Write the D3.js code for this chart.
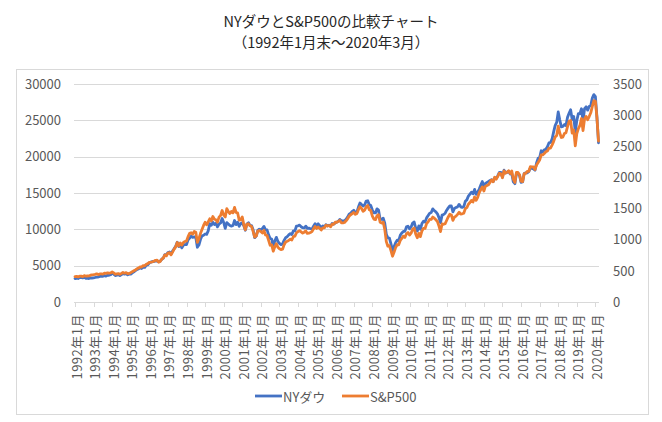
<!DOCTYPE html>
<html>
<head>
<meta charset="utf-8">
<script src="https://cdn.jsdelivr.net/npm/d3@7"></script>
<style>
  html, body { margin: 0; padding: 0; background: #fff; }
  svg { display: block; font-family: "Noto Sans CJK JP", "Noto Sans", sans-serif; }
</style>
</head>
<body>
<svg id="chart" width="662" height="422"></svg>
<script>
// ---- Data (month-end closes, Jan 1992 – Mar 2020) ----
const titleLines = ["NYダウとS&P500の比較チャート", "（1992年1月末～2020年3月）"];
const seriesNames = ["NYダウ", "S&P500"];
const startYear = 1992;
const tickLabels = ["1992年1月","1993年1月","1994年1月","1995年1月","1996年1月","1997年1月","1998年1月",
  "1999年1月","2000年1月","2001年1月","2002年1月","2003年1月","2004年1月","2005年1月","2006年1月",
  "2007年1月","2008年1月","2009年1月","2010年1月","2011年1月","2012年1月","2013年1月","2014年1月",
  "2015年1月","2016年1月","2017年1月","2018年1月","2019年1月","2020年1月"];
const leftTicks = [0, 5000, 10000, 15000, 20000, 25000, 30000];
const rightTicks = [0, 500, 1000, 1500, 2000, 2500, 3000, 3500];

const dow = [
  3223,3267,3236,3359,3397,3319,3394,3257,3272,3226,3305,3301,
  3310,3371,3435,3428,3527,3516,3540,3651,3555,3681,3684,3754,
  3978,3832,3636,3682,3758,3625,3765,3913,3843,3908,3739,3834,
  3843,4011,4158,4321,4465,4556,4708,4611,4789,4756,5075,5117,
  5395,5486,5587,5569,5643,5655,5529,5616,5882,6029,6522,6448,
  6813,6878,6584,7009,7331,7673,8223,7622,7945,7442,7823,7908,
  7907,8546,8800,9063,8900,8952,8883,7539,7843,8592,9117,9181,
  9359,9307,9786,10789,10560,10971,10655,10829,10337,10729,10878,11497,
  10941,10128,10922,10734,10522,10448,10522,11215,10651,10971,10415,10788,
  10887,10495,9879,10735,10912,10502,10523,9950,8848,9075,9852,10022,
  9920,10106,10404,9946,9925,9243,8737,8664,7592,8397,8896,8342,
  8054,7891,7992,8480,8850,8985,9234,9416,9275,9801,9782,10454,
  10488,10584,10358,10226,10188,10435,10140,10174,10080,10027,10428,10783,
  10490,10766,10504,10193,10467,10275,10641,10482,10569,10440,10806,10718,
  10865,10993,11109,11367,11168,11150,11186,11381,11679,12081,12222,12463,
  12622,12269,12354,13063,13628,13409,13212,13358,13896,13930,13372,13265,
  12650,12266,12263,12820,12638,11350,11378,11544,10851,9325,8829,8776,
  8001,7063,7609,8168,8500,8447,9172,9496,9712,9713,10345,10428,
  10067,10325,10857,11009,10137,9774,10466,10015,10788,11118,11006,11578,
  11892,12226,12320,12811,12570,12414,12143,11614,10913,11955,12046,12218,
  12633,12952,13212,13214,12393,12880,13009,13091,13437,13096,13026,13104,
  13861,14054,14579,14840,15116,14910,15500,14810,15130,15546,16086,16577,
  15699,16322,16458,16581,16717,16827,16563,17098,17043,17391,17828,17823,
  17165,18133,17776,17841,18011,17620,17690,16528,16285,17664,17720,17425,
  16466,16517,17685,17774,17787,17930,18432,18401,18308,18142,19124,19763,
  19864,20812,20663,20941,21009,21350,21891,21948,22405,23377,24272,24719,
  26149,25029,24103,24163,24416,24271,25415,25965,26458,25116,25538,23327,
  24999,25916,25929,26593,24815,26600,26864,26403,26917,27046,28051,28538,
  28256,25409,21917
];

const sp500 = [
  408.8,412.7,403.7,414.9,415.4,408.1,424.2,414.0,417.8,418.7,431.4,435.7,
  438.8,443.4,451.7,440.2,450.2,450.5,448.1,463.6,458.9,467.8,461.8,466.5,
  481.6,467.1,445.8,450.9,456.5,444.3,458.3,475.5,462.7,472.4,453.7,459.3,
  470.4,487.4,500.7,514.7,533.4,544.8,562.1,561.9,584.4,581.5,605.4,615.9,
  636.0,640.4,645.5,654.2,669.1,670.6,639.9,651.9,687.3,705.3,757.0,740.7,
  786.2,790.8,757.1,801.3,848.3,885.1,954.3,899.5,947.3,914.6,955.4,970.4,
  980.3,1049.3,1101.8,1111.8,1090.8,1133.8,1120.7,957.3,1017.0,1098.7,1163.6,1229.2,
  1279.6,1238.3,1286.4,1335.2,1301.8,1372.7,1328.7,1320.4,1282.7,1362.9,1389.0,1469.3,
  1394.5,1366.4,1498.6,1452.4,1420.6,1454.6,1430.8,1517.7,1436.5,1429.4,1315.2,1320.3,
  1366.0,1239.9,1160.3,1249.5,1255.8,1224.4,1211.2,1133.6,1040.9,1059.8,1139.5,1148.1,
  1130.2,1106.7,1147.4,1076.9,1067.1,989.8,911.6,916.1,815.3,885.8,936.3,879.8,
  855.7,841.2,848.2,916.9,963.6,974.5,990.3,1008.0,996.0,1050.7,1058.2,1111.9,
  1131.1,1144.9,1126.2,1107.3,1120.7,1140.8,1101.7,1104.2,1114.6,1130.2,1173.8,1211.9,
  1181.3,1203.6,1180.6,1156.9,1191.5,1191.3,1234.2,1220.3,1228.8,1207.0,1249.5,1248.3,
  1280.1,1280.7,1294.9,1310.6,1270.1,1270.2,1276.7,1303.8,1335.9,1377.9,1400.6,1418.3,
  1438.2,1406.8,1420.9,1482.4,1530.6,1503.4,1455.3,1474.0,1527.0,1549.4,1481.1,1468.4,
  1378.6,1330.6,1322.7,1385.6,1400.4,1280.0,1267.4,1282.8,1166.4,968.8,896.2,903.3,
  825.9,735.1,797.9,872.8,919.1,919.3,987.5,1020.6,1057.1,1036.2,1095.6,1115.1,
  1073.9,1104.5,1169.4,1186.7,1089.4,1030.7,1101.6,1049.3,1141.2,1183.3,1180.6,1257.6,
  1286.1,1327.2,1325.8,1363.6,1345.2,1320.6,1292.3,1218.9,1131.4,1253.3,1247.0,1257.6,
  1312.4,1365.7,1408.5,1397.9,1310.3,1362.2,1379.3,1406.6,1440.7,1412.2,1416.2,1426.2,
  1498.1,1514.7,1569.2,1597.6,1630.7,1606.3,1685.7,1633.0,1681.6,1756.5,1805.8,1848.4,
  1782.6,1859.5,1872.3,1883.9,1923.6,1960.2,1930.7,2003.4,1972.3,2018.1,2067.6,2058.9,
  1995.0,2104.5,2067.9,2085.5,2107.4,2063.1,2103.8,1972.2,1920.0,2079.4,2080.4,2043.9,
  1940.2,1932.2,2059.7,2065.3,2096.9,2098.9,2173.6,2170.9,2168.3,2126.2,2199.0,2238.8,
  2278.9,2363.6,2362.7,2384.2,2411.8,2423.4,2470.3,2471.7,2519.4,2575.3,2647.6,2673.6,
  2823.8,2713.8,2640.9,2648.1,2705.3,2718.4,2816.3,2901.5,2914.0,2711.7,2760.2,2506.9,
  2704.1,2784.5,2834.4,2945.8,2752.1,2941.8,2980.4,2926.5,2976.7,3037.6,3141.0,3230.8,
  3225.5,2954.2,2584.6
];

// ---- Layout ----
const svg = d3.select("#chart");
const plot = { left: 74, right: 599, top: 84, bottom: 302 };
const colors = { dow: "#4472C4", sp: "#ED7D31", grid: "#D9D9D9", text: "#595959" };
const FONT = "'Noto Sans CJK JP', 'Noto Sans', sans-serif";

// frame
svg.append("rect").attr("x", 16.5).attr("y", 69.5).attr("width", 632).attr("height", 345)
  .attr("fill", "#fff").attr("stroke", colors.grid).attr("stroke-width", 1);

// title
svg.append("g").selectAll("text").data(titleLines).join("text")
  .attr("x", 331).attr("y", (d, i) => 20 + i * 21)
  .attr("text-anchor", "middle").attr("dominant-baseline", "central")
  .attr("font-size", 14.5).attr("fill", "#262626").text(d => d);

// scales
const n = dow.length;
const x = d3.scaleLinear().domain([0, n - 1]).range([plot.left + 1, plot.right - 0.5]);
const yL = d3.scaleLinear().domain([0, 30000]).range([plot.bottom, plot.top]);
const yR = d3.scaleLinear().domain([0, 3500]).range([plot.bottom, plot.top]);
const fmt = d3.format("d");

// gridlines
svg.append("g").selectAll("line").data(leftTicks).join("line")
  .attr("x1", plot.left).attr("x2", plot.right)
  .attr("y1", d => Math.round(yL(d)) + 0.5).attr("y2", d => Math.round(yL(d)) + 0.5)
  .attr("stroke", colors.grid).attr("stroke-width", 1);

// left axis
const leftAxis = d3.axisLeft(yL).tickValues(leftTicks).tickFormat(fmt).tickSize(0).tickPadding(13);
svg.append("g").attr("transform", `translate(${plot.left},0)`).call(leftAxis)
  .call(g => g.select(".domain").remove())
  .call(g => g.selectAll("text").attr("font-size", 13).attr("fill", colors.text).attr("font-family", FONT));

// right axis
const rightAxis = d3.axisRight(yR).tickValues(rightTicks).tickFormat(fmt).tickSize(0).tickPadding(14);
svg.append("g").attr("transform", `translate(${plot.right},0)`).call(rightAxis)
  .call(g => g.select(".domain").remove())
  .call(g => g.selectAll("text").attr("font-size", 13).attr("fill", colors.text).attr("font-family", FONT));

// x axis ticks + labels (one per January)
const tickIdx = tickLabels.map((t, i) => i * 12);
const xg = svg.append("g");
xg.selectAll("line.tick").data(tickIdx).join("line").attr("class", "tick")
  .attr("x1", d => Math.round(x(d)) + 0.5).attr("x2", d => Math.round(x(d)) + 0.5)
  .attr("y1", plot.bottom).attr("y2", plot.bottom + 5)
  .attr("stroke", colors.grid);
xg.selectAll("text").data(tickLabels).join("text")
  .attr("transform", (d, i) => `translate(${x(tickIdx[i]) + 2},314) rotate(-90)`)
  .attr("text-anchor", "end").attr("dy", "0.35em")
  .attr("font-size", 13).attr("letter-spacing", 0.5).attr("fill", colors.text).text(d => d);

// lines
const lineL = d3.line().x((d, i) => x(i)).y(d => yL(d));
const lineR = d3.line().x((d, i) => x(i)).y(d => yR(d));
svg.append("path").datum(dow).attr("d", lineL)
  .attr("fill", "none").attr("stroke", colors.dow).attr("stroke-width", 2.8)
  .attr("stroke-linejoin", "round").attr("stroke-linecap", "round");
svg.append("path").datum(sp500).attr("d", lineR)
  .attr("fill", "none").attr("stroke", colors.sp).attr("stroke-width", 2.8)
  .attr("stroke-linejoin", "round").attr("stroke-linecap", "round");

// legend
const legend = [
  { name: seriesNames[0], color: colors.dow, x: 255 },
  { name: seriesNames[1], color: colors.sp, x: 342 }
];
const lg = svg.append("g").selectAll("g").data(legend).join("g")
  .attr("transform", d => `translate(${d.x},396)`);
lg.append("line").attr("x1", 0).attr("x2", 27).attr("y1", 0).attr("y2", 0)
  .attr("stroke", d => d.color).attr("stroke-width", 2.8);
lg.append("text").attr("x", 28).attr("y", 0).attr("dominant-baseline", "central")
  .attr("font-size", 13).attr("fill", colors.text).text(d => d.name);
</script>
</body>
</html>
